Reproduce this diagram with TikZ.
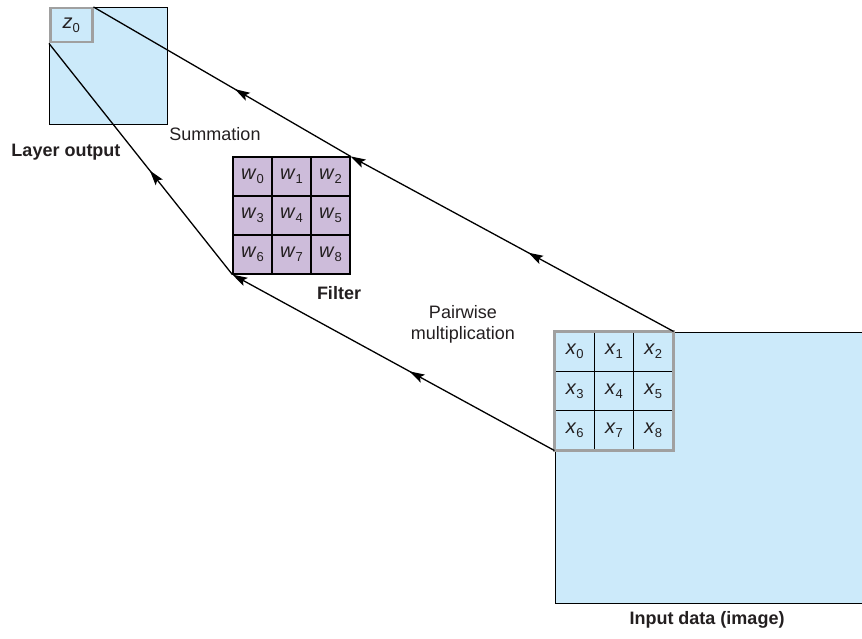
\documentclass[tikz,border=0pt]{standalone}
\usepackage{fontspec}
\setmainfont{Liberation Sans}
\usetikzlibrary{arrows.meta,decorations.markings}
\definecolor{cellblue}{RGB}{204,234,250}
\definecolor{cellpurple}{RGB}{205,188,218}
\definecolor{framegray}{RGB}{160,160,160}
\definecolor{inkgray}{RGB}{35,31,32}
\newcommand{\sv}[2]{{\fontsize{20}{22}\selectfont\textit{#1}}\raisebox{-4pt}{\fontsize{13}{13}\selectfont #2}}
\begin{document}
\begin{tikzpicture}[x=1pt,y=-1pt,
  font=\fontsize{18}{21}\selectfont, text=inkgray,
  boldlbl/.style={font=\fontsize{18}{21}\selectfont\bfseries},
  wcell/.style={draw=black, line width=1.2pt, fill=cellpurple, minimum size=39pt, inner sep=0pt},
  xcell/.style={draw=black, line width=1.2pt, fill=cellblue, minimum size=39.3pt, inner sep=0pt},
  conn/.style={line width=1.3pt, draw=black},
  midarrow/.style={postaction={decorate}, decoration={markings, mark=at position 0.45 with {\arrow{Stealth[length=15pt,width=9pt,inset=3pt]}}}},
  endarrow/.style={-{Stealth[length=15pt,width=9pt,inset=3pt]}}
  ]
\useasboundingbox (0,0) rectangle (862,639);

% layer output
\node[draw, fill=cellblue, line width=1.3pt, minimum width=118pt, minimum height=117pt, anchor=north west, inner sep=0pt] (out) at (49,7) {};
\node[draw=framegray, line width=2.5pt, fill=cellblue, minimum width=42pt, minimum height=34pt, anchor=north west, inner sep=0pt] (z0) at (49,7) {\sv{z}{0}};

% input image
\node[draw, fill=cellblue, line width=1.3pt, minimum width=308pt, minimum height=271pt, anchor=north west, inner sep=0pt] (img) at (555,332) {};

% filter cells
\node[wcell] (w0) at (252.5,176.5) {\sv{w}{0}};
\node[wcell] (w1) at (291.5,176.5) {\sv{w}{1}};
\node[wcell] (w2) at (330.5,176.5) {\sv{w}{2}};
\node[wcell] (w3) at (252.5,215.5) {\sv{w}{3}};
\node[wcell] (w4) at (291.5,215.5) {\sv{w}{4}};
\node[wcell] (w5) at (330.5,215.5) {\sv{w}{5}};
\node[wcell] (w6) at (252.5,254.5) {\sv{w}{6}};
\node[wcell] (w7) at (291.5,254.5) {\sv{w}{7}};
\node[wcell] (w8) at (330.5,254.5) {\sv{w}{8}};

% input cells
\node[xcell] (x0) at (574.7,351.7) {\sv{x}{0}};
\node[xcell] (x1) at (614,351.7) {\sv{x}{1}};
\node[xcell] (x2) at (653.3,351.7) {\sv{x}{2}};
\node[xcell] (x3) at (574.7,391) {\sv{x}{3}};
\node[xcell] (x4) at (614,391) {\sv{x}{4}};
\node[xcell] (x5) at (653.3,391) {\sv{x}{5}};
\node[xcell] (x6) at (574.7,430.3) {\sv{x}{6}};
\node[xcell] (x7) at (614,430.3) {\sv{x}{7}};
\node[xcell] (x8) at (653.3,430.3) {\sv{x}{8}};
\draw[framegray, line width=2.5pt] (x0.north west) rectangle (x8.south east);

% connectors
\draw[conn, midarrow, endarrow] (x2.north east) -- (w2.north east);
\draw[conn, midarrow] (w2.north east) -- (z0.north east);
\draw[conn, midarrow, endarrow] (x6.south west) -- (w6.south west);
\draw[conn, midarrow] (w6.south west) -- (z0.south west);

% labels
\node (sum) at (215,134) {Summation};
\node[boldlbl] (lo) at (66,152) {Layer output};
\node[boldlbl] (flt) at (339,293) {Filter};
\node[align=center] (pm) at (463,324) {Pairwise\\multiplication};
\node[boldlbl] (inp) at (707,620) {Input data (image)};
\end{tikzpicture}
\end{document}
